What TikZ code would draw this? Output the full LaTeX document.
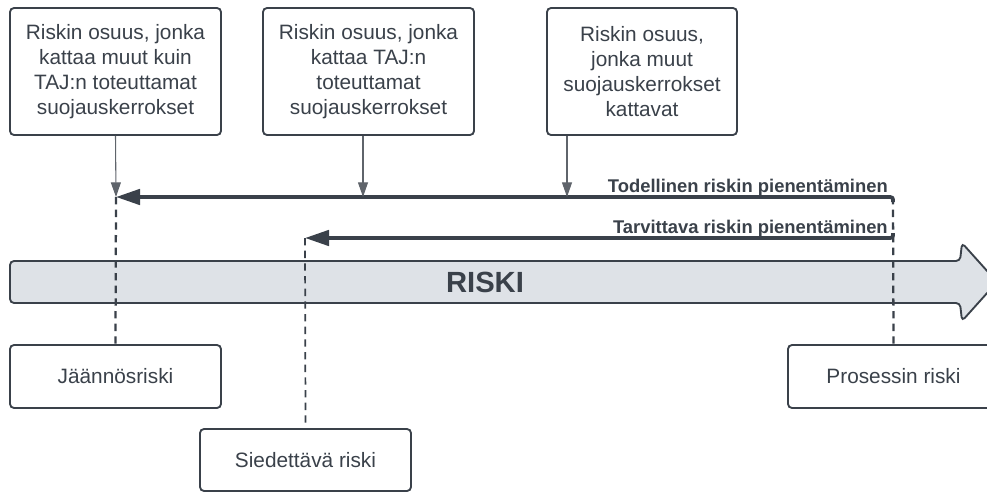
\documentclass[tikz,border=0pt]{standalone}
\usepackage{fontspec}
\setmainfont{Liberation Sans}
\usetikzlibrary{arrows.meta,calc}
\definecolor{ink}{HTML}{3A414A}
\definecolor{thin}{HTML}{5F646B}
\definecolor{band}{HTML}{DEE2E7}
\tikzset{
  box/.style={draw=ink, line width=1.4pt, rounded corners=3pt, fill=white,
    text=ink, align=center, font=\fontsize{15.6pt}{18.75pt}\selectfont,
    minimum width=158.25pt, inner sep=0pt},
  tallbox/.style={box, minimum height=95.25pt},
  lowbox/.style={box, minimum height=47.25pt},
  pointer/.style={draw=thin, line width=0.8pt, -{Triangle[length=11pt,width=7.5pt]}},
  bigarrow/.style={draw=ink, line width=2.8pt, -{Triangle[length=18pt,width=11.5pt]}},
  guide/.style={draw=ink, line width=1.7pt, dash pattern=on 5.5pt off 4pt},
  guidethin/.style={draw=ink, line width=1.3pt, dash pattern=on 5.5pt off 4pt},
  lbl/.style={text=ink, font=\bfseries\fontsize{13.8pt}{16pt}\selectfont, inner sep=0pt}
}
\begin{document}
\begin{tikzpicture}[x=0.75pt,y=-0.75pt]
\path[use as bounding box, clip] (0,0) rectangle (987,492);

% RISKI band arrow
\draw[ink, line width=1.4pt, fill=band, rounded corners=3pt]
  (10,261) -- (960,261) -- (962,243) -- (997,282) -- (962,321) -- (960,303) -- (10,303) -- cycle;
\node[text=ink, font=\bfseries\fontsize{21.9pt}{24pt}\selectfont, inner sep=0pt] (riski) at (485,282) {RISKI};

% top boxes
\node[tallbox] (b1) at (115.5,71.5) {Riskin osuus, jonka\\kattaa muut kuin\\TAJ:n toteuttamat\\suojauskerrokset};
\node[tallbox] (b2) at (368.5,71.5) {Riskin osuus, jonka\\kattaa TAJ:n\\toteuttamat\\suojauskerrokset};
\node[tallbox, minimum width=142.5pt] (b3) at (642,71.5) {Riskin osuus,\\jonka muut\\suojauskerrokset\\kattavat};

% bottom boxes
\node[lowbox] (jr) at (115.5,376.5) {Jäännösriski};
\node[lowbox, minimum height=46.5pt] (sr) at (305.5,460) {Siedettävä riski};
\node[lowbox] (pr) at (893.5,376.5) {Prosessin riski};

% coordinates on the reduction arrows
\coordinate (t1) at (116,197);
\coordinate (t2) at (363,197);
\coordinate (t3) at (567,197);
\coordinate (r1) at (893,197);
\coordinate (s1) at (305,238);
\coordinate (r2) at (893,238);

% dashed guides
\draw[guide] (r1) -- (pr.north);
\draw[guide] (t1) -- (jr.north);
\draw[guidethin] (s1) -- (sr.north);

% reduction arrows
\draw[bigarrow, rounded corners=2pt] ($(r1)+(0,5)$) -- (r1) -- (t1);
\draw[bigarrow, rounded corners=2pt] ($(r2)+(0,-5)$) -- (r2) -- (s1);
\node[lbl, anchor=base east] (l1) at (888,192) {Todellinen riskin pienentäminen};
\node[lbl, anchor=base east] (l2) at (888,233) {Tarvittava riskin pienentäminen};

% pointers from boxes
\draw[pointer] (b1.south) -- (t1);
\draw[pointer] (t2 |- b2.south) -- (t2);
\draw[pointer] (t3 |- b3.south) -- (t3);
\end{tikzpicture}
\end{document}
